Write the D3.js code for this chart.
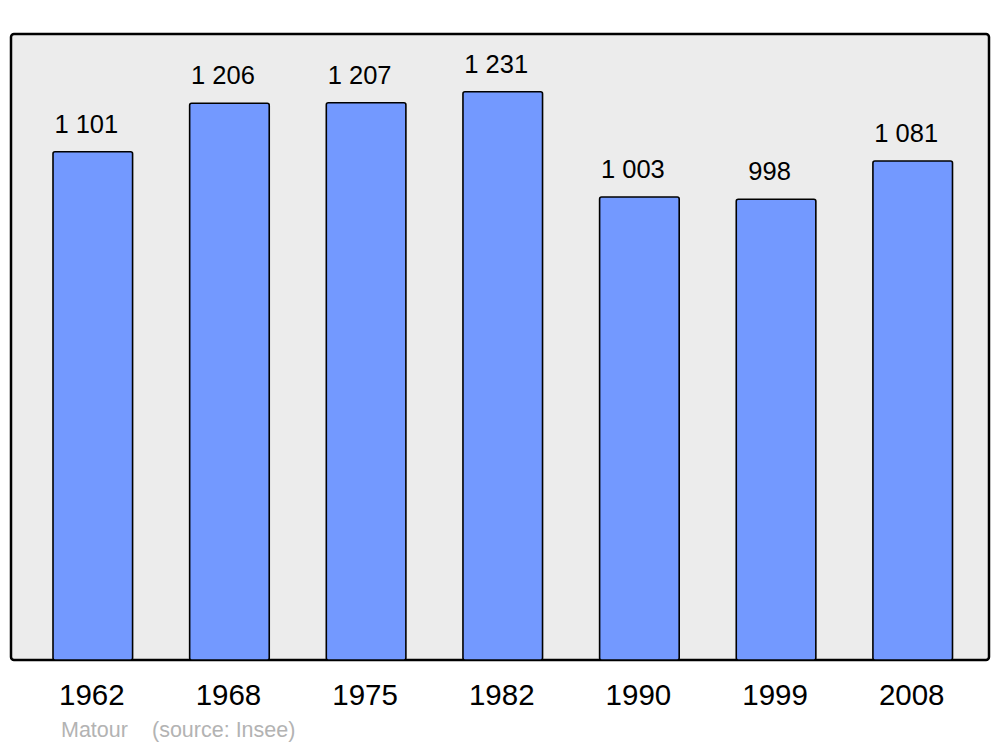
<!DOCTYPE html>
<html>
<head>
<meta charset="utf-8">
<script src="https://cdn.jsdelivr.net/npm/d3@7"></script>
<style>
  html, body { margin: 0; padding: 0; background: #ffffff; }
  svg { display: block; }
</style>
</head>
<body>
<svg id="chart" width="1000" height="747"></svg>
<script>
const years = ["1962", "1968", "1975", "1982", "1990", "1999", "2008"];
const population = [1101, 1206, 1207, 1231, 1003, 998, 1081];
const valueLabels = ["1 101", "1 206", "1 207", "1 231", "1 003", "998", "1 081"];
const townName = "Matour";
const sourceText = "(source: Insee)";

const svg = d3.select("#chart");
const panel = { left: 11, top: 34, right: 989, bottom: 660 };

const x = d3.scaleBand()
  .domain(years)
  .range([53, 952.5])
  .paddingInner(0.4176)
  .paddingOuter(0);

const y = d3.scaleLinear()
  .domain([0, 1356])
  .range([panel.bottom, panel.top]);

svg.append("rect")
  .attr("x", panel.left)
  .attr("y", panel.top)
  .attr("width", panel.right - panel.left)
  .attr("height", panel.bottom - panel.top)
  .attr("rx", 3)
  .attr("fill", "#ececec")
  .attr("stroke", "#000")
  .attr("stroke-width", 2.5);

const data = years.map((yr, i) => ({ year: yr, value: population[i], label: valueLabels[i] }));

svg.append("g").selectAll("rect")
  .data(data)
  .join("rect")
  .attr("x", d => x(d.year))
  .attr("y", d => y(d.value))
  .attr("width", x.bandwidth())
  .attr("height", d => y(0) - y(d.value))
  .attr("rx", 2)
  .attr("fill", "#7399ff")
  .attr("stroke", "#000")
  .attr("stroke-width", 1.6);

svg.append("g").selectAll("text")
  .data(data)
  .join("text")
  .attr("x", d => x(d.year) + x.bandwidth() / 2 - 6.5)
  .attr("y", d => y(d.value) - 19)
  .attr("text-anchor", "middle")
  .attr("font-family", "Liberation Sans, Arial, sans-serif")
  .attr("font-size", 25.5)
  .attr("fill", "#000")
  .text(d => d.label);

const xAxis = d3.axisBottom(x).tickSize(0).tickPadding(0);
const gx = svg.append("g")
  .attr("transform", `translate(-1, ${panel.bottom})`)
  .call(xAxis);
gx.select(".domain").remove();
gx.selectAll("text")
  .attr("dy", null)
  .attr("y", 45)
  .attr("font-family", "Liberation Sans, Arial, sans-serif")
  .attr("font-size", 29.5)
  .attr("fill", "#000");

svg.append("text")
  .attr("x", 61)
  .attr("y", 737)
  .attr("font-family", "Liberation Sans, Arial, sans-serif")
  .attr("font-size", 21.5)
  .attr("fill", "#b3b3b3")
  .text(townName);

svg.append("text")
  .attr("x", 152)
  .attr("y", 737)
  .attr("font-family", "Liberation Sans, Arial, sans-serif")
  .attr("font-size", 21.5)
  .attr("fill", "#b3b3b3")
  .text(sourceText);
</script>
</body>
</html>
